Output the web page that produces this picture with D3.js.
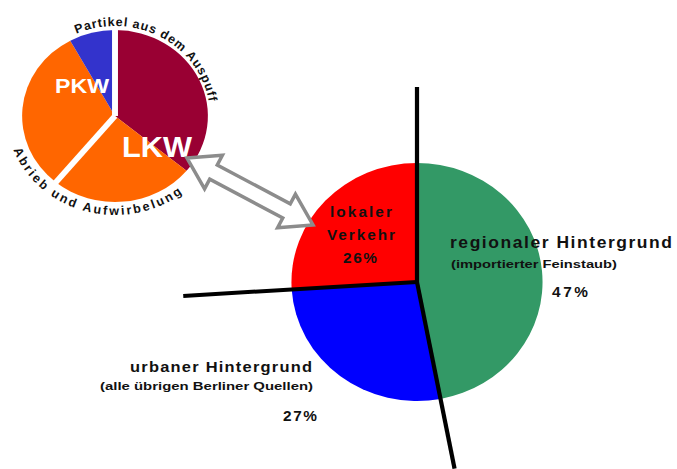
<!DOCTYPE html>
<html>
<head>
<meta charset="utf-8">
<script src="https://cdn.jsdelivr.net/npm/d3@7"></script>
<style>
  body { margin: 0; background: #fff; }
  svg { display: block; font-family: "Liberation Sans", Arial, sans-serif; }
</style>
</head>
<body>
<svg id="chart" width="677" height="469"></svg>
<script>
// small pie: where the local traffic share comes from
var smallLabels = ["Partikel aus dem Auspuff LKW", "Abrieb und Aufwirbelung LKW", "Abrieb und Aufwirbelung PKW", "Partikel aus dem Auspuff PKW"];
var smallValues = [36, 25, 31, 8];
var smallColors = ["#990033", "#ff6600", "#ff6600", "#3333cc"];
var groupLabels = ["LKW", "PKW"];
var arcTexts = ["Partikel aus dem Auspuff", "Abrieb und Aufwirbelung"];

// big pie: PM10 sources
var bigLabels = ["regionaler Hintergrund", "urbaner Hintergrund", "lokaler Verkehr"];
var bigSubLabels = ["(importierter Feinstaub)", "(alle übrigen Berliner Quellen)", ""];
var bigValues = [47, 27, 26];
var bigColors = ["#339966", "#0000ff", "#ff0000"];

var svg = d3.select("#chart");
var rad = Math.PI / 180;
var stretch = 1.06;   // the original is a bit wider than tall

// ---- small pie ----
var sp = {cx: 115, cy: 116, r: 86, sx: 1.08};
var smallArcs = d3.pie().sort(null).value(d => d)(smallValues);
var smallArc = d3.arc().innerRadius(0).outerRadius(sp.r);

var gSmall = svg.append("g")
    .attr("transform", "translate(" + sp.cx + "," + sp.cy + ") scale(" + sp.sx + ",1)");

gSmall.selectAll("path.slice")
    .data(smallArcs)
    .enter().append("path")
    .attr("class", "slice")
    .attr("d", smallArc)
    .attr("fill", (d, i) => smallColors[i]);

// white gaps between the LKW and PKW halves
var gapAngles = [smallArcs[0].startAngle, smallArcs[2].startAngle];
gSmall.selectAll("line.gap")
    .data(gapAngles)
    .enter().append("line")
    .attr("class", "gap")
    .attr("x1", 0).attr("y1", 0)
    .attr("x2", a => Math.sin(a) * (sp.r + 6))
    .attr("y2", a => -Math.cos(a) * (sp.r + 6))
    .attr("stroke", "#fff")
    .attr("stroke-width", 5.5);

// LKW / PKW labels
var groupPos = [{x: 157, y: 157, size: 30, len: 70}, {x: 82, y: 93, size: 20, len: 54}];
svg.selectAll("text.group")
    .data(groupLabels)
    .enter().append("text")
    .attr("class", "group")
    .attr("x", (d, i) => groupPos[i].x)
    .attr("y", (d, i) => groupPos[i].y)
    .attr("text-anchor", "middle")
    .attr("font-size", (d, i) => groupPos[i].size)
    .attr("font-weight", "bold")
    .attr("fill", "#fff")
    .attr("textLength", (d, i) => groupPos[i].len)
    .attr("lengthAdjust", "spacingAndGlyphs")
    .text(d => d);

// curved labels round the small pie
function ellipseArc(cx, cy, rx, ry, a0, a1, sweep) {
    var p0 = [cx + rx * Math.sin(a0 * rad), cy - ry * Math.cos(a0 * rad)];
    var p1 = [cx + rx * Math.sin(a1 * rad), cy - ry * Math.cos(a1 * rad)];
    var large = Math.abs(a1 - a0) > 180 ? 1 : 0;
    return "M" + p0[0] + "," + p0[1] + " A" + rx + "," + ry + " 0 " + large + " " + sweep + " " + p1[0] + "," + p1[1];
}
var arcPaths = [
    {rx: 95, ry: 90, a0: -24, a1: 100, sweep: 1, size: 12.5, spacing: 0.9},
    {rx: 108, ry: 99, a0: 250, a1: 115, sweep: 0, size: 12.5, spacing: 2.3}
];
var defs = svg.append("defs");
arcPaths.forEach(function (p, i) {
    defs.append("path")
        .attr("id", "arcText" + i)
        .attr("d", ellipseArc(sp.cx, sp.cy, p.rx, p.ry, p.a0, p.a1, p.sweep));
    svg.append("text")
        .attr("font-size", p.size)
        .attr("font-weight", "bold")
        .attr("letter-spacing", p.spacing)
        .attr("fill", "#111")
        .append("textPath")
        .attr("href", "#arcText" + i)
        .text(arcTexts[i]);
});

// ---- big pie ----
var bp = {cx: 417, cy: 282, r: 119, sx: 1.055};
var bigArcs = d3.pie().sort(null).value(d => d)(bigValues);
var bigArc = d3.arc().innerRadius(0).outerRadius(bp.r);

var gBig = svg.append("g")
    .attr("transform", "translate(" + bp.cx + "," + bp.cy + ") scale(" + bp.sx + ",1)");

gBig.selectAll("path.slice")
    .data(bigArcs)
    .enter().append("path")
    .attr("class", "slice")
    .attr("d", bigArc)
    .attr("fill", (d, i) => bigColors[i]);

// black dividers running out past the pie
var lineLen = [195, 190, 222];
gBig.selectAll("line.divider")
    .data(bigArcs)
    .enter().append("line")
    .attr("class", "divider")
    .attr("x1", 0).attr("y1", 0)
    .attr("x2", (d, i) => Math.sin(d.startAngle) * lineLen[i])
    .attr("y2", (d, i) => -Math.cos(d.startAngle) * lineLen[i])
    .attr("stroke", "#000")
    .attr("stroke-width", 4);

// labels of the big pie, drawn slightly wide like the original
function addLabel(g, txt, x, y, anchor, size, len, adjust) {
    g.append("text")
        .attr("transform", "translate(" + x + "," + y + ") scale(" + stretch + ",1)")
        .attr("text-anchor", anchor)
        .attr("font-size", size)
        .attr("textLength", len / stretch)
        .attr("lengthAdjust", adjust)
        .text(txt);
}
var labelPos = [
    {x: 450, y: 248, anchor: "start", size: 16.5, len: 222, sx: 451, sy: 268, ssize: 11, slen: 166, px: 570, py: 297, plen: 36},
    {x: 312, y: 372, anchor: "end", size: 15.5, len: 182, sx: 313, sy: 390, ssize: 11, slen: 213, px: 300, py: 421, plen: 34},
    {x: 361, y: 217, anchor: "middle", size: 14.5, len: 62, px: 360, py: 263, plen: 34}
];
var gLab = svg.append("g").attr("font-weight", "bold").attr("fill", "#111");
bigLabels.forEach(function (lab, i) {
    var p = labelPos[i];
    if (i === 2) {
        // "lokaler Verkehr" sits on two lines inside the slice
        var lens = [62, 68];
        lab.split(" ").forEach(function (w, j) {
            addLabel(gLab, w, p.x, p.y + j * 23, "middle", p.size, lens[j], "spacing");
        });
    } else {
        addLabel(gLab, lab, p.x, p.y, p.anchor, p.size, p.len, "spacing");
        addLabel(gLab, bigSubLabels[i], p.sx, p.sy, p.anchor, p.ssize, p.slen, "spacingAndGlyphs");
    }
    addLabel(gLab, bigValues[i] + "%", p.px, p.py, "middle", 14.5, p.plen, "spacing");
});

// ---- double arrow linking LKW to lokaler Verkehr ----
var tipA = [187, 158], tipB = [313, 225];
var L = Math.hypot(tipB[0] - tipA[0], tipB[1] - tipA[1]);
var ang = Math.atan2(tipB[1] - tipA[1], tipB[0] - tipA[0]) / rad;
var h = 30, b = 19, s = 8;
var arrowPts = [[0, 0], [h, -b], [h, -s], [L - h, -s], [L - h, -b], [L, 0], [L - h, b], [L - h, s], [h, s], [h, b]];
svg.append("polygon")
    .attr("points", arrowPts.map(p => p.join(",")).join(" "))
    .attr("transform", "translate(" + tipA[0] + "," + tipA[1] + ") rotate(" + ang + ")")
    .attr("fill", "#fff")
    .attr("stroke", "#8c8c8c")
    .attr("stroke-width", 3.5);
</script>
</body>
</html>
